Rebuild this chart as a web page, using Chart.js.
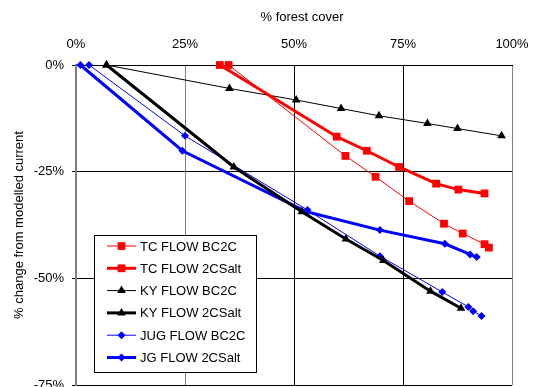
<!DOCTYPE html>
<html>
<head>
<meta charset="utf-8">
<script src="https://cdn.jsdelivr.net/npm/chart.js@4/dist/chart.umd.min.js"></script>
<style>
  html, body { margin: 0; padding: 0; background: #fff; overflow: hidden; }
</style>
</head>
<body>
<canvas id="lineChart" width="535" height="400"></canvas>
<script>
// x = % forest cover, y = % change from modelled current
const tcBc2cX = [35, 61.8, 68.7, 76.4, 84.4, 88.7, 93.7, 94.7];
const tcBc2cY = [0, -21.3, -26.2, -31.9, -37.2, -39.5, -42, -42.8];
const tc2cSaltX = [33, 59.8, 66.7, 74.1, 82.6, 87.7, 93.7];
const tc2cSaltY = [0, -16.8, -20.1, -23.9, -27.8, -29.2, -30.1];
const kyBc2cX = [7, 35.2, 50.5, 60.8, 69.5, 80.6, 87.5, 97.6];
const kyBc2cY = [0, -5.5, -8.2, -10.2, -11.9, -13.7, -14.9, -16.6];
const ky2cSaltX = [7, 36.2, 51.8, 61.9, 70.5, 81.3, 88.3];
const ky2cSaltY = [0, -23.9, -34.4, -40.8, -45.8, -53, -57];
const jugBc2cX = [3, 25, 53.1, 69.7, 84, 90, 91.1, 93];
const jugBc2cY = [0, -16.6, -34, -44.8, -53.2, -56.7, -57.7, -58.8];
const jg2cSaltX = [1, 24.4, 52.9, 69.7, 84.6, 90.4, 91.9];
const jg2cSaltY = [0, -20.1, -34.4, -38.7, -41.9, -44.4, -45];

const xTicks = [0, 25, 50, 75, 100];
const yTicks = [0, -25, -50, -75];

const FONT = "'Liberation Sans', Arial, sans-serif";

function toPoints(xs, ys) {
  return xs.map((x, i) => ({ x: x, y: ys[i] }));
}

function series(label, xs, ys, color, width, style, radius) {
  return {
    label: label,
    data: toPoints(xs, ys),
    showLine: true,
    borderColor: color,
    backgroundColor: color,
    borderWidth: width,
    pointStyle: style,
    pointRadius: radius,
    pointBorderWidth: 0,
    pointHoverRadius: radius,
    clip: false
  };
}

const datasets = [
  series("TC FLOW BC2C", tcBc2cX, tcBc2cY, "#ff0000", 1, "rect", 5.5),
  series("TC FLOW 2CSalt", tc2cSaltX, tc2cSaltY, "#ff0000", 3, "rect", 5.5),
  series("KY FLOW BC2C", kyBc2cX, kyBc2cY, "#000000", 1, "triangle", 5),
  series("KY FLOW 2CSalt", ky2cSaltX, ky2cSaltY, "#000000", 3, "triangle", 5),
  series("JUG FLOW BC2C", jugBc2cX, jugBc2cY, "#0000ff", 1, "rectRot", 4),
  series("JG FLOW 2CSalt", jg2cSaltX, jg2cSaltY, "#0000ff", 3, "rectRot", 4)
];

function marker(ctx, style, x, y, r) {
  ctx.beginPath();
  if (style === "rect") {
    const s = r * Math.SQRT1_2;
    ctx.rect(x - s, y - s, 2 * s, 2 * s);
  } else if (style === "triangle") {
    ctx.moveTo(x, y - r);
    ctx.lineTo(x + r * 0.866, y + r * 0.5);
    ctx.lineTo(x - r * 0.866, y + r * 0.5);
    ctx.closePath();
  } else {
    ctx.moveTo(x, y - r);
    ctx.lineTo(x + r, y);
    ctx.lineTo(x, y + r);
    ctx.lineTo(x - r, y);
    ctx.closePath();
  }
  ctx.fill();
}

// legend box sits inside the plot, over the grid lines
const boxLegend = {
  id: "boxLegend",
  afterDraw(chart) {
    const ctx = chart.ctx;
    ctx.save();
    ctx.fillStyle = "#fff";
    ctx.strokeStyle = "#000";
    ctx.lineWidth = 1;
    ctx.fillRect(94, 235, 162, 137);
    ctx.strokeRect(94.5, 235.5, 162, 137);
    ctx.font = "13px " + FONT;
    ctx.textBaseline = "middle";
    chart.data.datasets.forEach((ds, i) => {
      const y = 246 + i * 22.3;
      ctx.strokeStyle = ds.borderColor;
      ctx.lineWidth = ds.borderWidth;
      ctx.beginPath();
      ctx.moveTo(107, y);
      ctx.lineTo(136, y);
      ctx.stroke();
      ctx.fillStyle = ds.backgroundColor;
      marker(ctx, ds.pointStyle, 121.5, y, ds.pointRadius);
      ctx.fillStyle = "#000";
      ctx.fillText(ds.label, 140, y + 1);
    });
    // x axis title
    ctx.textAlign = "center";
    ctx.fillText("% forest cover", 302, 17);
    ctx.restore();
  }
};

const ctx = document.getElementById("lineChart").getContext("2d");

const chart = new Chart(ctx, {
  type: "scatter",
  data: { datasets: datasets },
  plugins: [boxLegend],
  options: {
    responsive: false,
    animation: false,
    devicePixelRatio: 1,
    layout: { padding: { top: 0, right: 23, bottom: 15, left: 0 } },
    plugins: {
      legend: { display: false },
      tooltip: { enabled: false }
    },
    scales: {
      x: {
        type: "linear",
        position: "top",
        min: 0,
        max: 100,
        afterBuildTicks: s => { s.ticks = xTicks.map(v => ({ value: v })); },
        ticks: {
          callback: v => v + "%",
          color: "#000",
          font: { family: FONT, size: 13 },
          padding: 13,
          maxRotation: 0
        },
        grid: {
          drawTicks: false,
          color: c => (c.tick && (c.tick.value === 100 || c.tick.value === 25)) ? "#808080" : "#000",
          lineWidth: 1
        },
        border: { color: "#000", width: 1 },
        afterFit: s => {
          s.height = 65;
          s.paddingLeft = 0;
          s.paddingRight = 0;
        }
      },
      y: {
        min: -75,
        max: 0,
        afterBuildTicks: s => { s.ticks = yTicks.map(v => ({ value: v })); },
        ticks: {
          callback: v => v + "%",
          color: "#000",
          font: { family: FONT, size: 13 },
          padding: 8
        },
        grid: { color: "#000", lineWidth: 1, tickLength: 4 },
        border: { color: "#808080", width: 2 },
        title: {
          display: true,
          text: "% change from modelled current",
          color: "#000",
          font: { family: FONT, size: 13 },
          padding: { top: 12 }
        },
        afterFit: s => {
          s.width = 76;
          s.paddingTop = 0;
          s.paddingBottom = 0;
        }
      }
    }
  }
});
</script>
</body>
</html>
